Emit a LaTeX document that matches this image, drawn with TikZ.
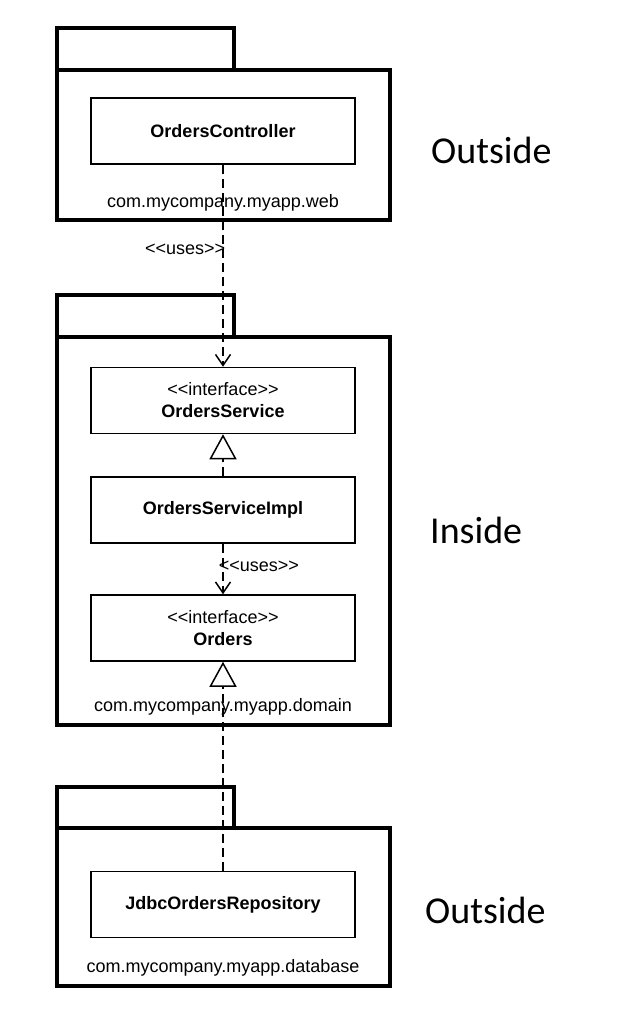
\documentclass[tikz,border=0pt]{standalone}
\usepackage{fontspec}
\setmainfont{Liberation Sans}
\newfontfamily\sidefont{Carlito}
\usetikzlibrary{arrows.meta,positioning,calc}
\newcommand{\stereo}[1]{<\kern0pt<#1>\kern0pt>}

\begin{document}
\begin{tikzpicture}[x=1pt, y=-1pt,
  pkg/.style={draw, line width=3.5pt, minimum width=333pt, inner sep=0pt, outer sep=0pt},
  pkgtab/.style={draw, line width=3.5pt, minimum width=177pt, minimum height=42pt, inner sep=0pt, outer sep=0pt, anchor=south west},
  cls/.style={draw, fill=white, line width=1.5pt, minimum width=264pt, minimum height=66pt, inner sep=0pt, align=center, font=\fontsize{18}{22}\selectfont},
  pkgname/.style={inner sep=0pt, font=\fontsize{18}{22}\selectfont},
  side/.style={anchor=base west, inner sep=0pt, font=\sidefont\fontsize{38}{44}\selectfont},
  uses/.style={line width=1.5pt, dash pattern=on 9pt off 5pt, -{Straight Barb[length=11pt,width=15pt]}},
  realizes/.style={line width=1.5pt, dash pattern=on 9pt off 5pt, -{Triangle[open,length=25pt,width=27pt]}}
]
  \useasboundingbox (0,0) rectangle (628,1030);
  % web package (outside)
  \node[pkg, minimum height=150pt] (webpkg) at (223.5,145) {};
  \node[pkgtab] (webtab) at (webpkg.north west) {};
  \node[pkgname] (webname) at (223,203) {com.mycompany.myapp.web};
  \node[cls] (ctrl) at (223,131) {\textbf{OrdersController}};
  % domain package (inside)
  \node[pkg, minimum height=388pt] (dompkg) at (223.5,531) {};
  \node[pkgtab] (domtab) at (dompkg.north west) {};
  \node[pkgname] (domname) at (223,707) {com.mycompany.myapp.domain};
  \node[cls] (svc) at (223,400.5) {\stereo{interface}\\\textbf{OrdersService}};
  \node[cls] (impl) at (223,510) {\textbf{OrdersServiceImpl}};
  \node[cls] (orders) at (223,628) {\stereo{interface}\\\textbf{Orders}};
  % database package (outside)
  \node[pkg, minimum height=158pt] (dbpkg) at (223.5,907) {};
  \node[pkgtab, minimum height=41pt] (dbtab) at (dbpkg.north west) {};
  \node[pkgname] (dbname) at (223,968) {com.mycompany.myapp.database};
  \node[cls] (jdbc) at (223,904.5) {\textbf{JdbcOrdersRepository}};
  % dependencies
  \draw[uses] (ctrl) -- node[pkgname, pos=0.42, anchor=east, xshift=3pt] (uses1) {\stereo{uses}} (svc);
  \draw[realizes] (impl) -- (svc);
  \draw[uses] (impl) -- node[pkgname, pos=0.44, anchor=west, xshift=-5pt] (uses2) {\stereo{uses}} (orders);
  \draw[realizes] (jdbc) -- (orders);
  % side labels
  \node[side] (outweb) at (431,163) {Outside};
  \node[side] (indom) at (430,543) {Inside};
  \node[side] (outdb) at (425,923) {Outside};
\end{tikzpicture}
\end{document}
